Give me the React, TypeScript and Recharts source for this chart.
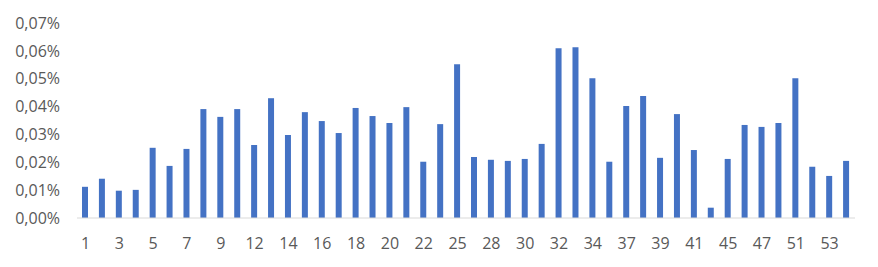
import { BarChart, Bar, XAxis, YAxis } from 'recharts';

// week numbers on the x axis (only every other one is labelled)
const weeks = [
  '1', '2', '3', '4', '5', '6', '7', '8', '9', '10', '12', '13', '14', '15', '16', '17',
  '18', '19', '20', '21', '22', '23', '25', '26', '28', '29', '30', '31', '32', '33', '34', '35',
  '37', '38', '39', '40', '41', '43', '45', '46', '47', '49', '51', '52', '53', '54',
];

// share in percent
const shares = [
  0.0112, 0.0141, 0.0098, 0.0101, 0.0252, 0.0187, 0.0248, 0.0391, 0.0363, 0.0391, 0.0262, 0.0430,
  0.0298, 0.0380, 0.0348, 0.0305, 0.0395, 0.0366, 0.0341, 0.0398, 0.0202, 0.0337, 0.0552, 0.0219,
  0.0209, 0.0205, 0.0212, 0.0266, 0.0609, 0.0613, 0.0502, 0.0202, 0.0402, 0.0438, 0.0216, 0.0373,
  0.0244, 0.0037, 0.0212, 0.0334, 0.0327, 0.0341, 0.0502, 0.0184, 0.0151, 0.0205,
];

const yTicks = [0, 0.01, 0.02, 0.03, 0.04, 0.05, 0.06, 0.07];

const data = weeks.map((week, i) => ({ week, share: shares[i] }));

const fmtPct = (v: number) => `${v.toFixed(2).replace('.', ',')}%`;

const tickStyle = { fontFamily: '"Open Sans", sans-serif', fontSize: 16, fill: '#595959' };

export default function App() {
  return (
    <div style={{ position: 'absolute', left: 0, top: 0, background: '#fff' }}>
      <BarChart
        width={878}
        height={267}
        data={data}
        margin={{ top: 23, right: 23, bottom: 0, left: 0 }}
      >
        <XAxis
          dataKey="week"
          interval={1}
          tickLine={false}
          tickSize={0}
          tickMargin={20}
          height={49}
          axisLine={{ stroke: '#d9d9d9' }}
          tick={tickStyle}
        />
        <YAxis
          domain={[0, 0.07]}
          ticks={yTicks}
          tickFormatter={fmtPct}
          axisLine={false}
          tickLine={false}
          tickSize={0}
          tickMargin={17}
          width={77}
          tick={tickStyle}
        />
        <Bar dataKey="share" fill="#4472C4" barSize={6} isAnimationActive={false} />
      </BarChart>
    </div>
  );
}
